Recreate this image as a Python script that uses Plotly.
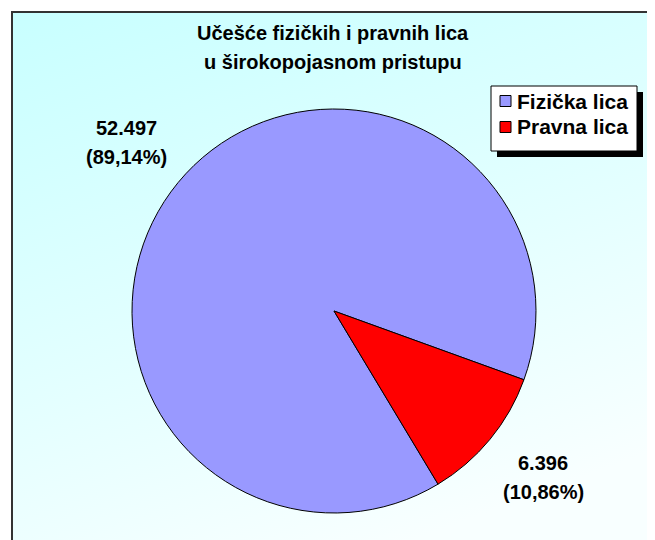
import base64
import plotly.graph_objects as go

categories = ["Fizička lica", "Pravna lica"]
values = [52497, 6396]
colors = ["#9999FF", "#FF0000"]
title_lines = ["Učešće fizičkih i pravnih lica", "u širokopojasnom pristupu"]

W, H = 655, 540
OFF = 8  # page body margin
total = sum(values)


def fmt_val(v):
    return f"{v:,}".replace(",", ".")


def fmt_pct(v):
    return f"({v / total * 100:.2f}%)".replace(".", ",")


def px(x):
    return (x - OFF) / W


def py(y):
    return (H - (y - OFF)) / H


FONT = "Liberation Sans, Arial, sans-serif"
FS = 20

# pie placement (screen px)
cx, cy, r = 334, 311, 202

fig = go.Figure()
fig.add_trace(go.Pie(
    labels=categories,
    values=values,
    marker=dict(colors=colors, line=dict(color="#000000", width=1)),
    sort=False,
    direction="clockwise",
    rotation=149,
    textinfo="none",
    hoverinfo="label+value+percent",
    showlegend=False,
    domain=dict(x=[px(cx - r), px(cx + r)], y=[py(cy + r), py(cy - r)]),
))

# background gradient via SVG
svg = (
    '<svg xmlns="http://www.w3.org/2000/svg" width="100" height="100" preserveAspectRatio="none">'
    '<defs><linearGradient id="g" x1="0" y1="0" x2="0.45" y2="1">'
    '<stop offset="0" stop-color="#C8FFFF"/>'
    '<stop offset="0.6" stop-color="#E4FFFF"/>'
    '<stop offset="1" stop-color="#F8FFFF"/>'
    '</linearGradient></defs>'
    '<rect width="100" height="100" fill="url(#g)"/></svg>'
)
src = "data:image/svg+xml;base64," + base64.b64encode(svg.encode()).decode()


def txt(text, x, y, xanchor="center", size=FS):
    return dict(
        text=text, x=px(x), y=py(y), xref="paper", yref="paper",
        showarrow=False, xanchor=xanchor, yanchor="middle",
        font=dict(family=FONT, size=size, color="#000000", weight="bold"),
    )


annotations = []
for i, line in enumerate(title_lines):
    annotations.append(txt(line, 333, 33 + 29 * i))

label_pos = [(127, 128), (543, 463)]
for (lx, ly), v in zip(label_pos, values):
    annotations.append(txt(fmt_val(v), lx, ly))
    annotations.append(txt(fmt_pct(v), lx, ly + 29))

shapes = [
    # frame
    dict(type="rect", xref="paper", yref="paper",
         x0=px(12), y0=-0.05, x1=1.05, y1=py(12),
         line=dict(color="#333333", width=2), fillcolor="rgba(0,0,0,0)", layer="above"),
    # legend shadow
    dict(type="rect", xref="paper", yref="paper",
         x0=px(497), y0=py(157), x1=px(643), y1=py(92),
         line=dict(width=0), fillcolor="#000000", layer="above"),
    # legend box
    dict(type="rect", xref="paper", yref="paper",
         x0=px(491), y0=py(151), x1=px(637), y1=py(86),
         line=dict(color="#000000", width=1), fillcolor="#FFFFFF", layer="above"),
]

# legend entries
for i, (cat, col) in enumerate(zip(categories, colors)):
    yc = 101 + 26 * i
    shapes.append(dict(type="rect", xref="paper", yref="paper",
                       x0=px(500), x1=px(511), y0=py(yc + 5.5), y1=py(yc - 5.5),
                       line=dict(color="#000000", width=1), fillcolor=col, layer="above"))
    annotations.append(txt(cat, 515, yc, xanchor="left", size=21))

fig.update_layout(
    width=W, height=H,
    margin=dict(l=0, r=0, t=0, b=0),
    paper_bgcolor="#FFFFFF",
    plot_bgcolor="rgba(0,0,0,0)",
    showlegend=False,
    images=[dict(source=src, xref="paper", yref="paper",
                 x=px(12), y=py(12), sizex=1.05 - px(12), sizey=py(12) + 0.05,
                 xanchor="left", yanchor="top", sizing="stretch", layer="below")],
    annotations=annotations,
    shapes=shapes,
)

fig.write_html("out.html")
